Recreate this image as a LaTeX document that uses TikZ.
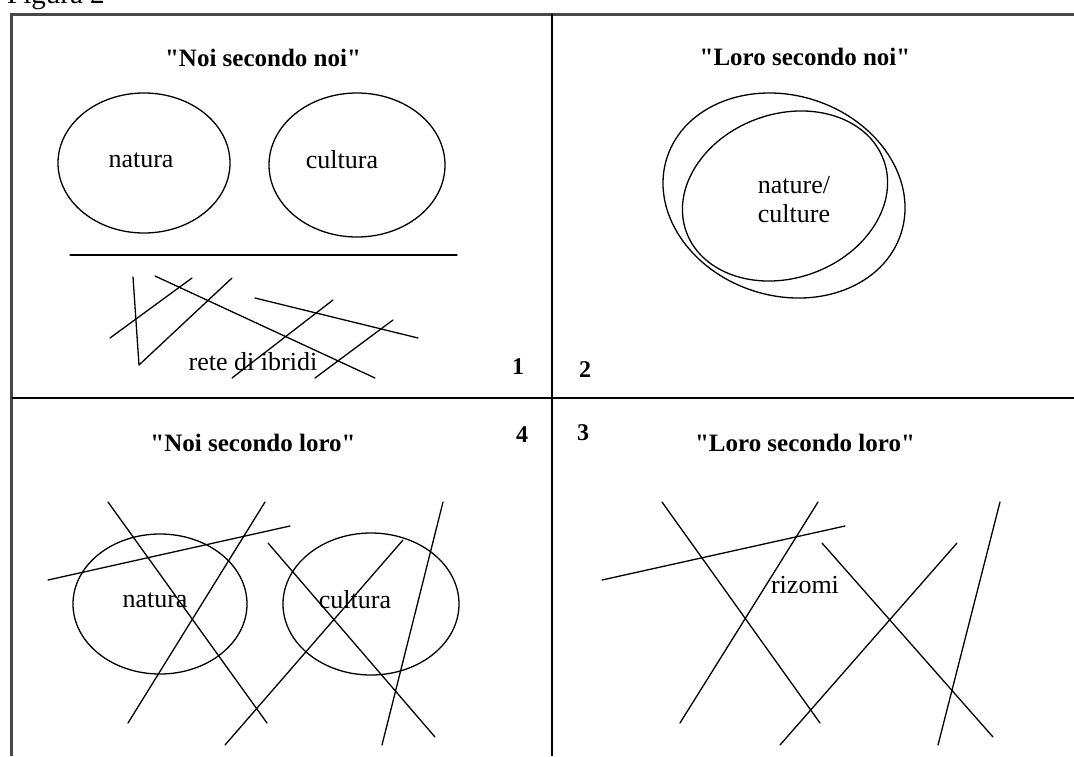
\documentclass[tikz,border=0pt]{standalone}
\usepackage{fontspec}
\setmainfont{Liberation Serif}
\usetikzlibrary{shapes.geometric}
\newcommand{\sq}{\XeTeXglyph\XeTeXcharglyph"22\relax}
\begin{document}
\begin{tikzpicture}[x=1pt,y=-1pt,
  frame/.style={line width=3pt, draw=black!72},
  divider/.style={line width=1.5pt},
  stroke/.style={line width=1.3pt, line cap=round, line join=round},
  oval/.style={draw, line width=1.3pt, ellipse, inner sep=0pt, outer sep=0pt},
  curve/.style={line width=1.3pt},
  title/.style={font=\fontsize{25}{28}\selectfont\bfseries, inner sep=0pt},
  lbl/.style={font=\fontsize{26}{29}\selectfont, inner sep=0pt, align=center},
  num/.style={font=\fontsize{24}{28}\selectfont\bfseries, inner sep=0pt},
]
\useasboundingbox (0,0) rectangle (1074,756);
\fill[white] (0,0) rectangle (1074,756);

% caption
\node[font=\fontsize{29}{32}\selectfont, inner sep=0pt, anchor=base west] (fig) at (7,3) {Figura 2};

% frame and dividers
\coordinate (fbl) at (11.5,756);
\coordinate (ftl) at (11.5,14);
\coordinate (ftr) at (1074,14);
\draw[frame] (fbl) -- (ftl) -- (ftr);
\coordinate (vt) at (552,14);
\coordinate (vb) at (552,756);
\coordinate (hl) at (11.5,398);
\coordinate (hr) at (1074,398);
\draw[divider] (vt) -- (vb);
\draw[divider] (hl) -- (hr);

% numbers
\node[num] (n1) at (518,367) {1};
\node[num] (n2) at (585,370) {2};
\node[num] (n4) at (522,435) {4};
\node[num] (n3) at (583,433) {3};

% ---------- panel 1 ----------
\node[title] (t1) at (263,58) {\sq Noi secondo noi\sq};
\node[oval, minimum width=172pt, minimum height=140pt] (e1a) at (144,163) {};
\node[lbl] (l1a) at (141,160) {natura};
\node[oval, minimum width=176pt, minimum height=144pt] (e1b) at (357,165) {};
\node[lbl] (l1b) at (342,160) {cultura};
\coordinate (h1) at (70,255);
\coordinate (h2) at (457,255);
\draw[stroke] (h1) -- (h2);
\coordinate (a1) at (133,277); \coordinate (a2) at (139,365); \coordinate (a3) at (232,278);
\draw[stroke] (a1) -- (a2) -- (a3);
\coordinate (b1) at (110,338); \coordinate (b2) at (192,278);
\draw[stroke] (b1) -- (b2);
\coordinate (c1) at (155,276); \coordinate (c2) at (375,378);
\draw[stroke] (c1) -- (c2);
\coordinate (d1) at (255,298); \coordinate (d2) at (418,338);
\draw[stroke] (d1) -- (d2);
\coordinate (g1) at (333,300); \coordinate (g2) at (232,378);
\draw[stroke] (g1) -- (g2);
\coordinate (f1) at (393,320); \coordinate (f2) at (315,378);
\draw[stroke] (f1) -- (f2);
\node[lbl] (l1c) at (253,362) {rete di ibridi};

% ---------- panel 2 ----------
\node[title] (t2) at (805,57) {\sq Loro secondo noi\sq};
\coordinate (oc) at (784,195.5);
\coordinate (ic) at (785,196);
\draw[curve, rotate around={-18:(oc)}] (oc) ellipse [x radius=123, y radius=100.1];
\draw[curve, rotate around={20:(ic)}] (ic) ellipse [x radius=105, y radius=82];
\node[lbl] (l2) at (794,200) {nature/\\culture};

% ---------- panel 4 ----------
\node[title] (t4) at (253,443) {\sq Noi secondo loro\sq};
\node[oval, minimum width=174pt, minimum height=140pt] (e4a) at (160,604) {};
\node[lbl] (l4a) at (155,600) {natura};
\node[oval, minimum width=176pt, minimum height=142pt] (e4b) at (371,604) {};
\node[lbl] (l4b) at (355,600) {cultura};
\coordinate (p1) at (108,502); \coordinate (p2) at (267,723);
\draw[stroke] (p1) -- (p2);
\coordinate (q1) at (265,502); \coordinate (q2) at (128,723);
\draw[stroke] (q1) -- (q2);
\coordinate (r1) at (48,580); \coordinate (r2) at (290,526);
\draw[stroke] (r1) -- (r2);
\coordinate (s1) at (268,543); \coordinate (s2) at (435,737);
\draw[stroke] (s1) -- (s2);
\coordinate (u1) at (403,540); \coordinate (u2) at (225,745);
\draw[stroke] (u1) -- (u2);
\coordinate (v1) at (443,502); \coordinate (v2) at (382,745);
\draw[stroke] (v1) -- (v2);

% ---------- panel 3 ----------
\node[title] (t3) at (805,443) {\sq Loro secondo loro\sq};
\coordinate (P1) at (662,502); \coordinate (P2) at (820,723);
\draw[stroke] (P1) -- (P2);
\coordinate (Q1) at (818,502); \coordinate (Q2) at (680,723);
\draw[stroke] (Q1) -- (Q2);
\coordinate (R1) at (602,580); \coordinate (R2) at (845,526);
\draw[stroke] (R1) -- (R2);
\coordinate (S1) at (822,543); \coordinate (S2) at (993,737);
\draw[stroke] (S1) -- (S2);
\coordinate (U1) at (957,543); \coordinate (U2) at (780,745);
\draw[stroke] (U1) -- (U2);
\coordinate (V1) at (1000,502); \coordinate (V2) at (938,745);
\draw[stroke] (V1) -- (V2);
\node[lbl] (l3) at (805,585) {rizomi};
\end{tikzpicture}
\end{document}
